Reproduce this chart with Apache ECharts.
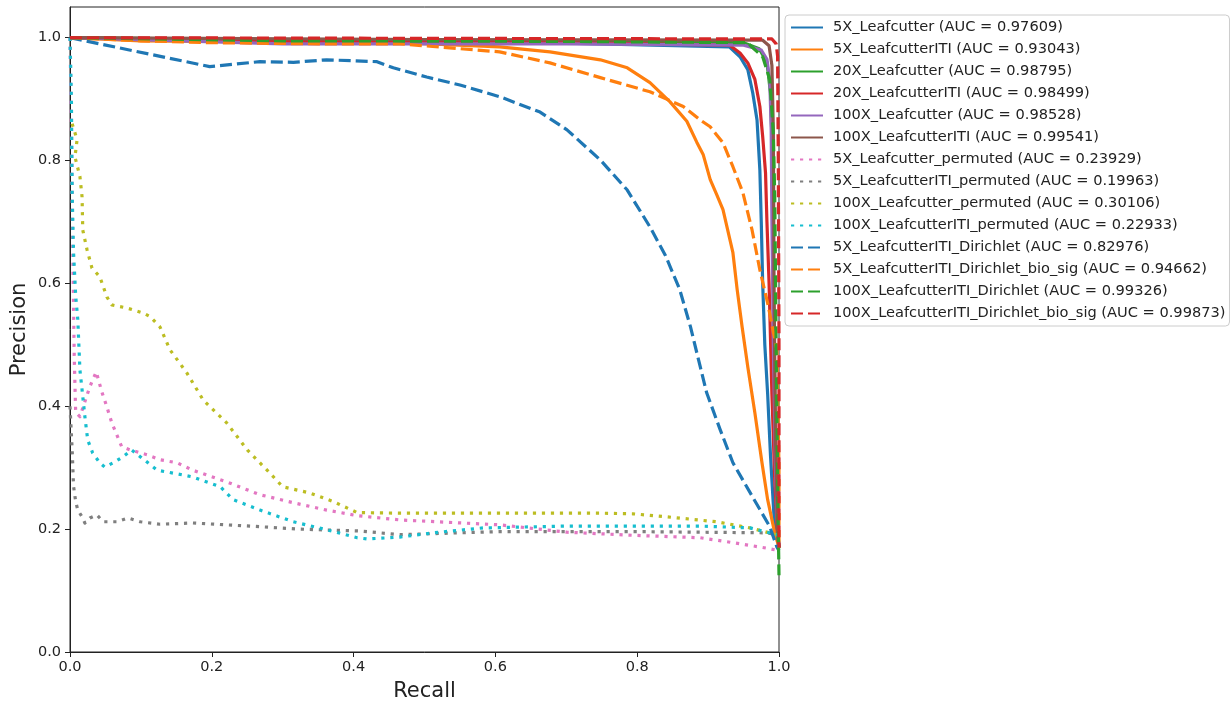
<!DOCTYPE html>
<html>
<head>
<meta charset="utf-8">
<title>Precision-Recall curves</title>
<script src="https://cdn.jsdelivr.net/npm/echarts@6/dist/echarts.min.js"></script>
<style>
  html, body { margin: 0; padding: 0; background: #fff; }
  #chart { width: 1231px; height: 704px; }
</style>
</head>
<body>
<div id="chart"></div>
<script>
// Precision-recall points per model: [recall, precision]
const leafcutter5X = [[0,1],[0.3,0.993],[0.7,0.991],[0.93,0.985],[0.945,0.969],[0.956,0.948],[0.963,0.91],[0.969,0.866],[0.973,0.785],[0.975,0.70],[0.977,0.60],[0.98,0.50],[0.984,0.42],[0.988,0.32],[0.993,0.22],[1,0.17]];
const leafcutterITI5X = [[0,1],[0.1,0.995],[0.3,0.993],[0.465,0.992],[0.606,0.985],[0.677,0.977],[0.748,0.964],[0.786,0.951],[0.818,0.927],[0.846,0.896],[0.87,0.864],[0.884,0.83],[0.893,0.81],[0.903,0.769],[0.912,0.745],[0.921,0.72],[0.935,0.65],[0.941,0.59],[0.948,0.529],[0.956,0.464],[0.966,0.389],[0.976,0.308],[0.984,0.248],[0.994,0.194],[1,0.17]];
const leafcutter20X = [[0,1],[0.3,0.996],[0.7,0.995],[0.95,0.992],[0.972,0.982],[0.983,0.96],[0.988,0.91],[0.991,0.8],[0.992,0.6],[0.995,0.35],[0.998,0.2],[1,0.17]];
const leafcutterITI20X = [[0,1],[0.3,0.994],[0.7,0.992],[0.93,0.988],[0.945,0.975],[0.956,0.959],[0.966,0.932],[0.973,0.888],[0.977,0.839],[0.981,0.78],[0.983,0.70],[0.986,0.60],[0.99,0.42],[0.994,0.28],[0.998,0.19],[1,0.17]];
const leafcutter100X = [[0,1],[0.3,0.99],[0.7,0.99],[0.95,0.988],[0.975,0.98],[0.983,0.965],[0.987,0.93],[0.989,0.85],[0.99,0.70],[0.992,0.50],[0.995,0.30],[0.998,0.2],[1,0.17]];
const leafcutterITI100X = [[0,1],[0.5,0.997],[0.977,0.996],[0.986,0.987],[0.99,0.955],[0.992,0.85],[0.993,0.6],[0.995,0.35],[0.998,0.2],[1,0.17]];
const leafcutter5XPermuted = [[0,1],[0.002,0.85],[0.004,0.65],[0.006,0.48],[0.008,0.39],[0.014,0.383],[0.028,0.432],[0.037,0.456],[0.045,0.423],[0.052,0.399],[0.059,0.373],[0.073,0.334],[0.085,0.329],[0.109,0.321],[0.127,0.313],[0.151,0.308],[0.173,0.296],[0.221,0.277],[0.268,0.256],[0.315,0.243],[0.362,0.231],[0.405,0.222],[0.465,0.215],[0.606,0.207],[0.701,0.195],[0.794,0.19],[0.889,0.186],[0.935,0.178],[0.983,0.169],[1,0.165]];
const leafcutterITI5XPermuted = [[0,0.4],[0.003,0.33],[0.005,0.27],[0.008,0.245],[0.011,0.231],[0.017,0.22],[0.021,0.21],[0.028,0.218],[0.038,0.223],[0.047,0.212],[0.066,0.212],[0.082,0.218],[0.099,0.212],[0.127,0.208],[0.173,0.21],[0.268,0.204],[0.324,0.2],[0.409,0.197],[0.465,0.191],[0.606,0.196],[0.794,0.196],[0.983,0.194],[1,0.19]];
const leafcutter100XPermuted = [[0.003,0.86],[0.01,0.834],[0.007,0.806],[0.014,0.774],[0.017,0.741],[0.018,0.687],[0.024,0.655],[0.031,0.625],[0.042,0.611],[0.052,0.578],[0.059,0.565],[0.08,0.56],[0.103,0.552],[0.113,0.546],[0.127,0.529],[0.141,0.492],[0.165,0.454],[0.188,0.41],[0.221,0.373],[0.25,0.329],[0.278,0.296],[0.3,0.269],[0.338,0.259],[0.371,0.245],[0.405,0.227],[0.465,0.226],[0.748,0.226],[0.794,0.225],[0.842,0.22],[0.912,0.212],[0.959,0.202],[1,0.19]];
const leafcutterITI100XPermuted = [[0,1],[0.002,0.9],[0.003,0.75],[0.005,0.65],[0.008,0.58],[0.011,0.541],[0.014,0.459],[0.017,0.427],[0.021,0.383],[0.025,0.345],[0.032,0.324],[0.042,0.308],[0.049,0.301],[0.061,0.308],[0.075,0.318],[0.087,0.329],[0.099,0.318],[0.123,0.296],[0.151,0.29],[0.173,0.285],[0.212,0.269],[0.23,0.248],[0.268,0.231],[0.315,0.212],[0.362,0.199],[0.405,0.186],[0.419,0.184],[0.465,0.187],[0.512,0.194],[0.583,0.202],[0.701,0.205],[0.889,0.205],[0.959,0.202],[1,0.19]];
const leafcutterITI5XDirichlet = [[0,1],[0.197,0.953],[0.268,0.961],[0.315,0.96],[0.362,0.964],[0.433,0.961],[0.456,0.951],[0.503,0.936],[0.55,0.923],[0.606,0.904],[0.663,0.879],[0.701,0.85],[0.748,0.801],[0.786,0.752],[0.818,0.692],[0.84,0.645],[0.86,0.59],[0.875,0.53],[0.889,0.464],[0.898,0.422],[0.917,0.362],[0.935,0.308],[0.963,0.252],[0.987,0.204],[0.997,0.171],[1,0.165]];
const leafcutterITI5XDirichletBioSig = [[0,1],[0.1,0.995],[0.197,0.992],[0.35,0.99],[0.465,0.99],[0.606,0.977],[0.677,0.959],[0.748,0.935],[0.818,0.912],[0.865,0.888],[0.889,0.866],[0.903,0.855],[0.921,0.829],[0.935,0.79],[0.949,0.748],[0.962,0.687],[0.973,0.622],[0.984,0.568],[0.997,0.492],[1,0.3],[1,0.17]];
const leafcutterITI100XDirichlet = [[0,1],[0.3,0.995],[0.7,0.994],[0.955,0.992],[0.977,0.969],[0.987,0.932],[0.992,0.845],[0.994,0.741],[0.996,0.5],[0.998,0.3],[0.999,0.2],[1,0.125]];
const leafcutterITI100XDirichletBioSig = [[0,1],[0.5,0.999],[0.99,0.998],[0.996,0.99],[0.998,0.97],[0.999,0.8],[1,0.5],[1,0.17]];

const curveNames = [
  '5X_Leafcutter', '5X_LeafcutterITI', '20X_Leafcutter', '20X_LeafcutterITI',
  '100X_Leafcutter', '100X_LeafcutterITI',
  '5X_Leafcutter_permuted', '5X_LeafcutterITI_permuted',
  '100X_Leafcutter_permuted', '100X_LeafcutterITI_permuted',
  '5X_LeafcutterITI_Dirichlet', '5X_LeafcutterITI_Dirichlet_bio_sig',
  '100X_LeafcutterITI_Dirichlet', '100X_LeafcutterITI_Dirichlet_bio_sig'
];
const aucValues = ['0.97609','0.93043','0.98795','0.98499','0.98528','0.99541',
  '0.23929','0.19963','0.30106','0.22933','0.82976','0.94662','0.99326','0.99873'];
const curveData = [
  leafcutter5X, leafcutterITI5X, leafcutter20X, leafcutterITI20X,
  leafcutter100X, leafcutterITI100X,
  leafcutter5XPermuted, leafcutterITI5XPermuted,
  leafcutter100XPermuted, leafcutterITI100XPermuted,
  leafcutterITI5XDirichlet, leafcutterITI5XDirichletBioSig,
  leafcutterITI100XDirichlet, leafcutterITI100XDirichletBioSig
];
const axisTicks = [0, 0.2, 0.4, 0.6, 0.8, 1.0];

// Line styles: solid models, dotted permuted controls, dashed Dirichlet variants
const palette = ['#1f77b4','#ff7f0e','#2ca02c','#d62728','#9467bd','#8c564b',
  '#e377c2','#7f7f7f','#bcbd22','#17becf','#1f77b4','#ff7f0e','#2ca02c','#d62728'];
const dashKinds = ['solid','solid','solid','solid','solid','solid',
  'dotted','dotted','dotted','dotted','dashed','dashed','dashed','dashed'];
const dashPattern = { solid: 'solid', dotted: [3.2, 5.8], dashed: [12, 5] };

const FONT = '"DejaVu Sans", sans-serif';

const series = curveNames.map((n, i) => ({
  name: `${n} (AUC = ${aucValues[i]})`,
  type: 'line',
  data: curveData[i],
  showSymbol: false,
  symbol: 'none',
  smooth: false,
  clip: true,
  animation: false,
  lineStyle: {
    color: palette[i],
    width: 3.2,
    type: dashPattern[dashKinds[i]],
    cap: 'butt',
    join: 'round'
  },
  itemStyle: { color: palette[i] },
  emphasis: { disabled: true }
}));

const chart = echarts.init(document.getElementById('chart'), null, { renderer: 'canvas' });
chart.setOption({
  animation: false,
  backgroundColor: '#ffffff',
  grid: {
    left: 70, right: 452, top: 7, bottom: 52,
    containLabel: false,
    outerBoundsMode: 'none',
    show: true, borderColor: '#222', borderWidth: 1, backgroundColor: 'transparent'
  },
  legend: {
    orient: 'vertical',
    left: 785, top: 15,
    padding: [5, 4, 5, 5],
    itemWidth: 32, itemHeight: 14, itemGap: 7,
    borderColor: '#cccccc', borderWidth: 1, borderRadius: 4,
    backgroundColor: '#ffffff',
    selectedMode: false,
    // only the line sample is shown in each legend key
    itemStyle: { opacity: 0 },
    textStyle: { fontFamily: FONT, fontSize: 14.6, color: '#222', lineHeight: 15, padding: [0, 0, 0, 5] },
    data: series.map(s => s.name)
  },
  xAxis: {
    type: 'value', min: 0, max: 1, interval: 0.2,
    name: 'Recall', nameLocation: 'middle', nameGap: 29,
    nameTextStyle: { fontFamily: FONT, fontSize: 21, color: '#222' },
    axisLine: { show: true, onZero: false, lineStyle: { color: '#222', width: 1 } },
    axisTick: { show: true, inside: false, length: 5, lineStyle: { color: '#222' }, customValues: axisTicks },
    axisLabel: { fontFamily: FONT, fontSize: 14.5, color: '#222', margin: 8,
      customValues: axisTicks, formatter: v => v.toFixed(1) },
    splitLine: { show: false }
  },
  yAxis: {
    type: 'value', min: 0, max: 1.05, interval: 0.2,
    name: 'Precision', nameLocation: 'middle', nameGap: 40,
    nameMoveOverlap: false,
    nameTextStyle: { fontFamily: FONT, fontSize: 21, color: '#222' },
    axisLine: { show: true, onZero: false, lineStyle: { color: '#222', width: 1 } },
    axisTick: { show: true, inside: false, length: 5, lineStyle: { color: '#222' }, customValues: axisTicks },
    axisLabel: { fontFamily: FONT, fontSize: 14.5, color: '#222', margin: 9,
      customValues: axisTicks, formatter: v => v.toFixed(1) },
    splitLine: { show: false }
  },
  series: series
});
</script>
</body>
</html>
